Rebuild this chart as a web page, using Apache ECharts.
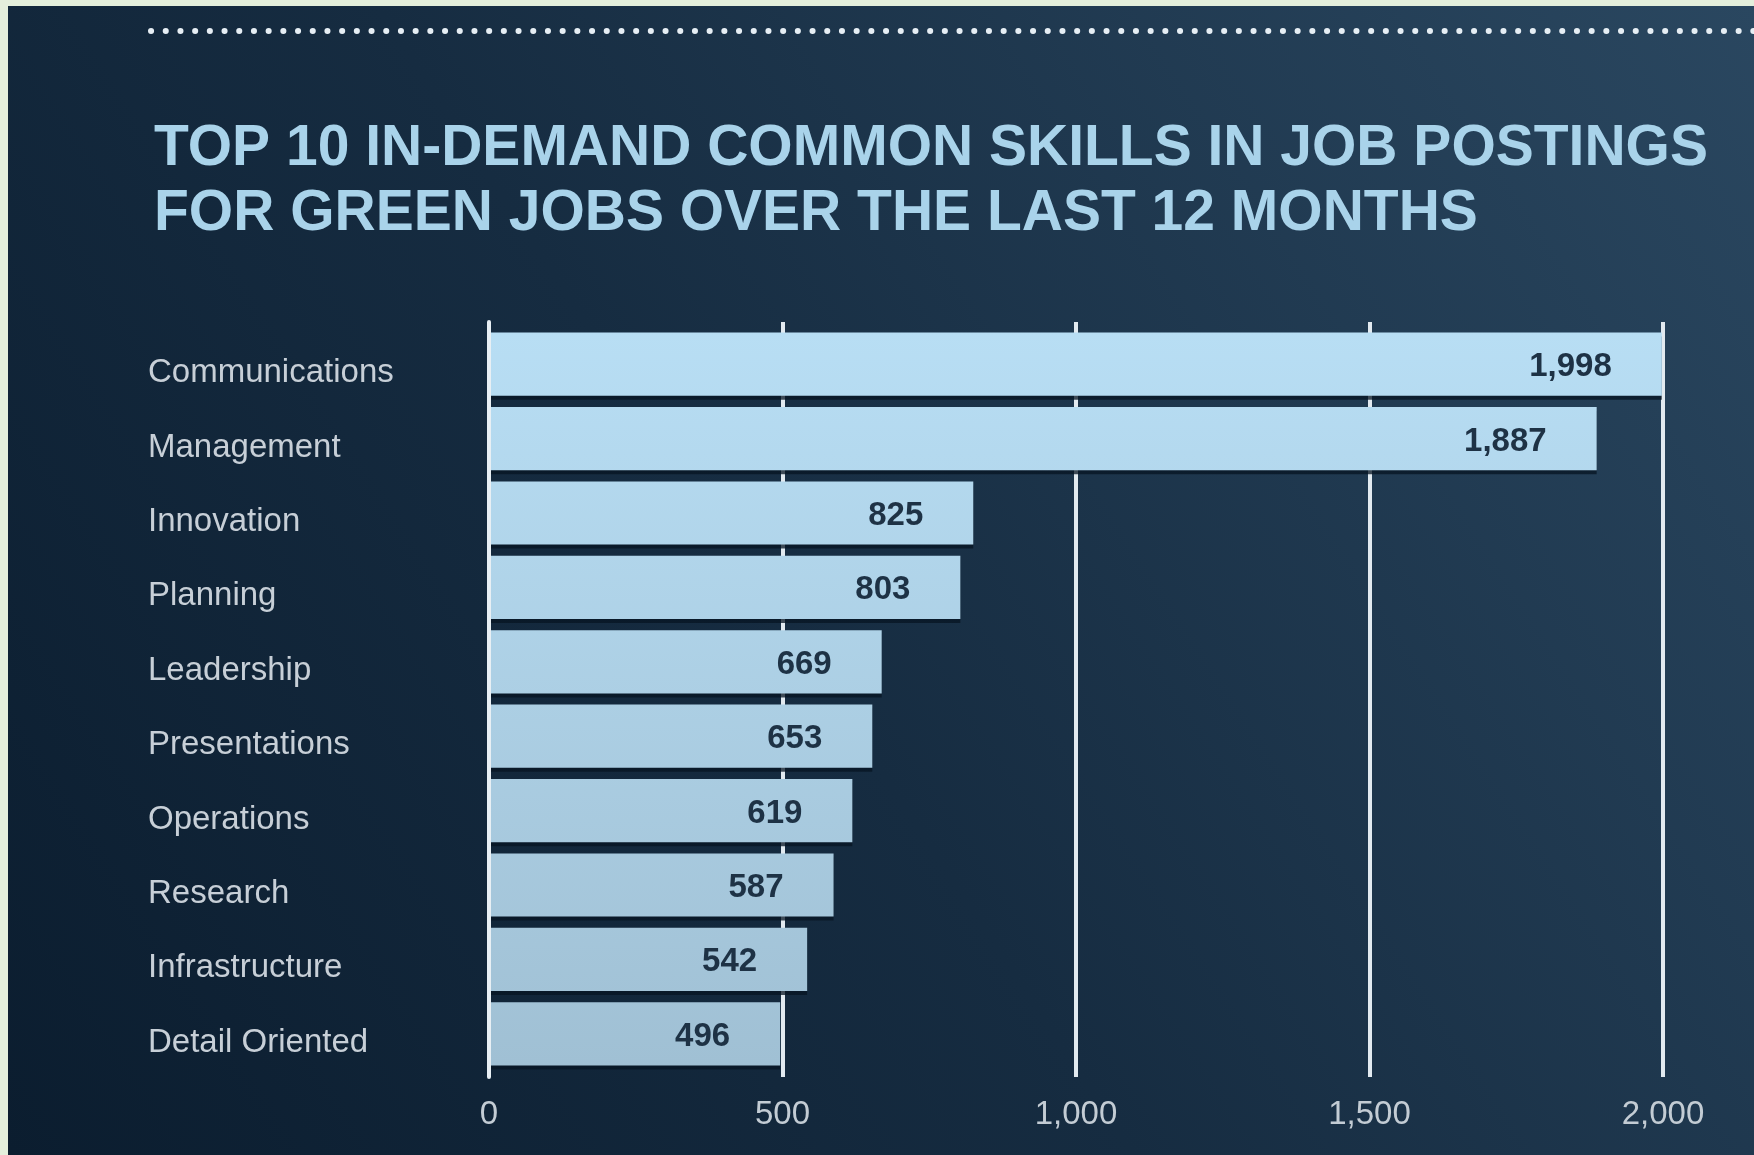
<!DOCTYPE html>
<html>
<head>
<meta charset="utf-8">
<script src="https://cdn.jsdelivr.net/npm/echarts@6/dist/echarts.min.js"></script>
<style>
  html, body { margin: 0; padding: 0; width: 1754px; height: 1155px; background: #e4efdc; overflow: hidden; }
  #chart { position: absolute; left: 8px; top: 6px; width: 1746px; height: 1149px; }
</style>
</head>
<body>
<div id="chart"></div>
<script>
const titleLines = ['TOP 10 IN-DEMAND COMMON SKILLS IN JOB POSTINGS', 'FOR GREEN JOBS OVER THE LAST 12 MONTHS'];
const categories = ['Communications', 'Management', 'Innovation', 'Planning', 'Leadership', 'Presentations', 'Operations', 'Research', 'Infrastructure', 'Detail Oriented'];
const values = [1998, 1887, 825, 803, 669, 653, 619, 587, 542, 496];
const xTicks = { min: 0, max: 2000, interval: 500 };

const fmt = v => Number(v).toLocaleString('en-US');
const chart = echarts.init(document.getElementById('chart'), null, { renderer: 'canvas' });

const option = {
  animation: false,
  backgroundColor: new echarts.graphic.LinearGradient(0, 1, 1, 0, [
    { offset: 0, color: '#0b1d2f' },
    { offset: 0.45, color: '#162c41' },
    { offset: 1, color: '#2a4760' }
  ]),
  title: {
    text: titleLines.join('\n'),
    left: 141,
    top: 106,
    textStyle: {
      fontFamily: 'Liberation Sans, Arial, sans-serif',
      fontWeight: 'bold',
      fontSize: 57,
      lineHeight: 65,
      color: '#a9d3ea'
    }
  },
  graphic: [{
    type: 'line',
    shape: { x1: 143, y1: 25, x2: 1760, y2: 25 },
    style: { stroke: '#e6eef4', lineWidth: 6, lineCap: 'round', lineDash: [0.1, 14.6] },
    silent: true
  }],
  grid: [
    { left: 481, right: 91, top: 321, bottom: 84 },
    { left: 481, right: 91, top: 316, bottom: 78 }
  ],
  xAxis: [
    {
      gridIndex: 0, type: 'value', min: xTicks.min, max: xTicks.max, interval: xTicks.interval,
      axisLine: { show: false }, axisTick: { show: false }, axisLabel: { show: false }, splitLine: { show: false }
    },
    {
      gridIndex: 1, type: 'value', min: xTicks.min, max: xTicks.max, interval: xTicks.interval,
      axisLine: { show: false }, axisTick: { show: false },
      axisLabel: {
        formatter: fmt, margin: 21, color: '#c3ccd4', fontSize: 33,
        fontFamily: 'Liberation Sans, Arial, sans-serif'
      },
      splitLine: { show: true, lineStyle: { color: '#e2eaf0', width: 4 } }
    }
  ],
  yAxis: [
    {
      gridIndex: 0, type: 'category', data: categories, inverse: true,
      axisLine: { show: false }, axisTick: { show: false },
      axisLabel: {
        align: 'left', margin: 341, color: '#c7cfd7', fontSize: 33,
        fontFamily: 'Liberation Sans, Arial, sans-serif',
        verticalAlign: 'top', lineHeight: 18
      }
    },
    {
      gridIndex: 1, type: 'category', data: categories, inverse: true, z: 6,
      axisLine: { show: true, lineStyle: { color: '#e8eff4', width: 4 } },
      axisTick: { show: false }, axisLabel: { show: false }, splitLine: { show: false }
    }
  ],
  series: [{
    type: 'bar',
    xAxisIndex: 0, yAxisIndex: 0,
    data: values,
    barCategoryGap: '15%',
    z: 3,
    itemStyle: {
      color: new echarts.graphic.LinearGradient(0, 326, 0, 1059, [
        { offset: 0, color: '#b8def4' },
        { offset: 1, color: '#a0c0d4' }
      ], true),
      shadowColor: 'rgba(6,20,34,0.75)',
      shadowOffsetY: 4,
      shadowBlur: 0
    },
    label: {
      show: true,
      position: 'insideRight',
      distance: 50,
      offset: [0, 3],
      formatter: p => fmt(p.value),
      color: '#1e3245',
      fontSize: 33,
      fontWeight: 'bold',
      fontFamily: 'Liberation Sans, Arial, sans-serif'
    }
  }]
};
chart.setOption(option);
</script>
</body>
</html>
